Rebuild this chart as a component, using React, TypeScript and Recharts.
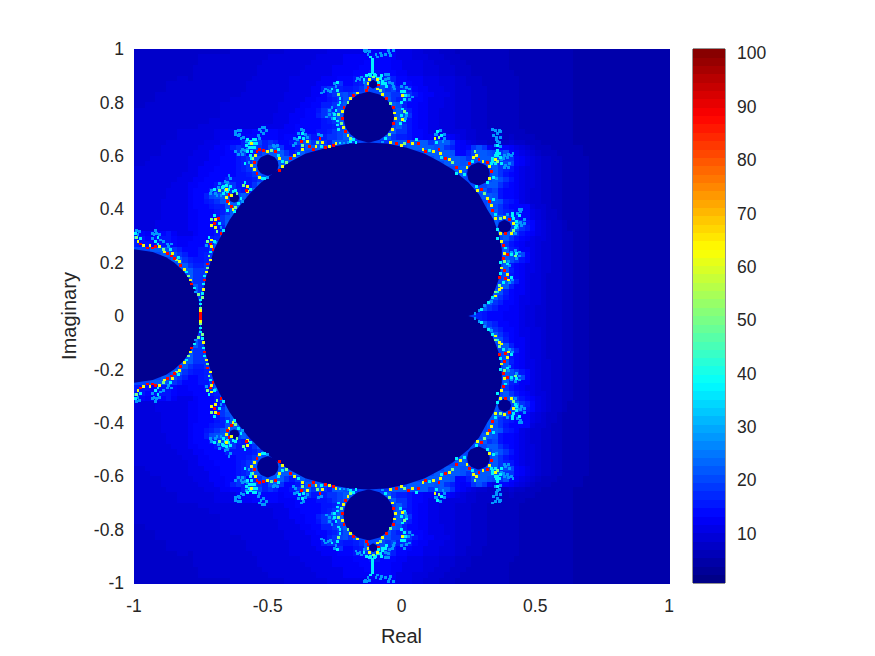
import { ScatterChart, Scatter, ComposedChart, Area, XAxis, YAxis, ReferenceArea } from 'recharts';

// outer iteration field for y = 0.99 down to 0.01, one char per cell (step 0.02), groups of ten columns
const topRows = [
  '5555555555 5555555566 6666666677 7777778888 8888999998 8877666555 4444444444 3333333333 3322222222 2222222222',
  '5555555555 5566666666 6666677777 7777888889 9999aaaa98 8877766655 5444444444 3333333333 3322222222 2222222222',
  '5555555555 5566666666 6666777777 7778888889 999aaaaa99 8888776665 5544444444 3333333333 3322222222 2222222222',
  '5555555555 5666666666 6667777777 7788888999 99aaaaaa99 8888777666 5554444444 3333333333 3322222222 2222222222',
  '5555555555 5666666666 6667777777 7888888999 9aaabbaaa9 9888777666 5554444444 4333333333 3322222222 2222222222',
  '5555555566 5666666666 6677777778 88888999aa abcdgdcdca a999888777 6655544444 4433333333 3322222222 2222222222',
  '5555556666 6666666666 6777777778 88889999da abcr##ydca aa99888777 6655544444 4433333333 3322222222 2222222222',
  '5555556666 6666666666 6777777778 88899cddcb bcdy##gdec dca9988877 6665554444 4433333333 3322222222 2222222222',
  '5555666666 6666666666 7777777788 88899acdeg dy####ogdd edba998887 6665554444 4433333333 3322222222 2222222222',
  '5555666666 6666666677 7777777788 8899aabcdg y######rdc dcaa988877 6665554444 4433333333 3322222222 2222222222',
  '5566666666 6666667777 7777777888 899aaccder ########rg caa9988877 6665554444 4433333333 3322222222 2222222222',
  '6666666666 6666667777 7777777888 99aabdecgo #########y dca9988777 6665554444 4433333333 3322222222 2222222222',
  '6666666666 6666667777 7777778889 99aacdegr# #########r gda9988777 6665554444 4433333333 3322222222 2222222222',
  '6666666666 6666777777 7777778889 9aaaabcdy# #########y cba9988777 6665554444 4433333333 3322222222 2222222222',
  '6666666666 6677777777 7777888899 aaaaabbcdg #########y dba9988777 6665554444 4433333333 3322222222 2222222222',
  '6666666677 7777788889 99aaaaa999 aaaabbcdey y#######rd dbaa988877 7766555544 4443333333 3322222222 2222222222',
  '6666666677 7777788889 9aaaaaa9aa acdbbcddey r######rdc cbaa99aaa9 8766555554 5444433333 3322222222 2222222222',
  '6666667777 77788899aa ceyecdcaab dgodydcoyg dd####ddyo oygoydgoyd a987665555 6554443333 3322222222 2222222222',
  '6666677777 7788899acd cdedcgydaa bdoyry#### ########## #oryrygodc a9adgd98aa 9876544433 3333222222 2222222222',
  '6666677777 7888999aad eacdgroydb dr######## ########## ####ryoryg aaceyrgedg a987654443 3333222222 2222222222',
  '6667777777 888899aaab cdgr##ryoy r######### ########## ######ryor rgdgrroyrd da98765544 3333322222 2222222222',
  '6677777777 888999aaab cdy####ry# ########## ########## ########ro ygr###ryde ea98765544 3333322222 2222222222',
  '7777777777 88999aaaab cdr####r## ########## ########## ########## ro#####rdc b987765544 3333322222 2222222222',
  '7777777778 8899aaaaab bcdo###### ########## ########## ########## #r#####ydb a987765544 3333322222 2222222222',
  '7777777788 899aaaacbb bbcdyr#### ########## ########## ########## #######rgd b987765544 3333322222 2222222222',
  '7777777888 99aaabdgdb bbdr###### ########## ########## ########## ######rydb a987765544 3333322222 2222222222',
  '7777778888 9aaacdecdc bcy####### ########## ########## ########## ####rydeba a987665544 3333322222 2222222222',
  '7777778888 9aacegyr## r######### ########## ########## ########## #####rygba a987665544 3333322222 2222222222',
  '7777788888 9aabcdgyor ########## ########## ########## ########## ######rygc ba87665544 3333322222 2222222222',
  '7777788888 9aaabccgyr ########## ########## ########## ########## ######ogdb aaaa766544 3333322222 2222222222',
  '7777788888 99aaabcdyr ########## ########## ########## ########## ######rydc baaa876554 3333322222 2222222222',
  '7777788888 99aaabdgr# ########## ########## ########## ########## #######ryg dcaa876554 3333322222 2222222222',
  '7777888888 99aaabdyr# ########## ########## ########## ########## #######r## #rdba87655 4333322222 2222222222',
  '7777888888 99aaabcr## ########## ########## ########## ########## #######r## #rdca87655 4333322222 2222222222',
  'aa99aab988 89aaabyr## ########## ########## ########## ########## ########ry ydba987655 4433322222 2222222222',
  'bbaabbba99 9aaabcr### ########## ########## ########## ########## #########r dba9877655 4433322222 2222222222',
  'cbbabbba99 aaabdgr### ########## ########## ########## ########## ########rd ba98876655 4433322222 2222222222',
  '###oyrgdca aabbdgr### ########## ########## ########## ########## #########r cb99876655 4433322222 2222222222',
  '#####oygdc aabcdr#### ########## ########## ########## ########## #########r gdea876655 4433322222 2222222222',
  '#######ryd cbbcdr#### ########## ########## ########## ########## #########y gdba876655 4433322222 2222222222',
  '########ry dccdr##### ########## ########## ########## ########## #########r ba98876655 4433322222 2222222222',
  '#########r ydddr##### ########## ########## ########## ########## #########y ca98876655 4433322222 2222222222',
  '########## rddgr##### ########## ########## ########## ########## #########g ba98776555 4433322222 2222222222',
  '########## rddr###### ########## ########## ########## ########## #########y gc98776555 4433322222 2222222222',
  '########## #rdr###### ########## ########## ########## ########## ########yy c998776555 4433322222 2222222222',
  '########## #rd####### ########## ########## ########## ########## #######ogc a998776555 4433322222 2222222222',
  '########## ##d####### ########## ########## ########## ########## #######ydb a988776555 4433322222 2222222222',
  '########## ##e####### ########## ########## ########## ########## ######rdca a988776555 4433322222 2222222222',
  '########## ##g####### ########## ########## ########## ########## #####rdcaa 9987766555 4433322222 2222222222',
  '########## ##r####### ########## ########## ########## ########## ###dcbaaa9 9987766555 4433322222 2222222222',
];

const codeValues: Record<string, number> = {
  '#': 20, '1': 4, '2': 5, '3': 6, '4': 7, '5': 8, '6': 9, '7': 10, '8': 11, '9': 12.5,
  a: 13.5, b: 15, c: 16, d: 18, e: 20, g: 21, y: 22, o: 22, r: 22,
};

// dark interior, [imag, left real, right real], upper half only
const mainBody = [
  [0.6495, -0.125, -0.125], [0.645, -0.2, -0.05], [0.63, -0.278, 0.02], [0.608, -0.36, 0.087], [0.58, -0.412, 0.14],
  [0.55, -0.46, 0.19], [0.5, -0.525, 0.25], [0.455, -0.57, 0.29], [0.4, -0.615, 0.32], [0.36, -0.643, 0.345],
  [0.3, -0.675, 0.366], [0.25, -0.7, 0.375], [0.2165, -0.71, 0.375], [0.15, -0.73, 0.368], [0.1, -0.74, 0.35],
  [0.075, -0.745, 0.34], [0.05, -0.75, 0.322], [0.03, -0.75, 0.305], [0.0135, -0.75, 0.287], [0.0044, -0.75, 0.2665],
  [0, -0.75, 0.25],
];
const topBulb = [
  [0.84, -0.125, -0.12], [0.83, -0.164, -0.082], [0.81, -0.19, -0.054], [0.79, -0.206, -0.04], [0.77, -0.214, -0.032],
  [0.745, -0.217, -0.028], [0.72, -0.213, -0.032], [0.7, -0.206, -0.04], [0.68, -0.19, -0.055], [0.66, -0.164, -0.082],
  [0.65, -0.125, -0.12],
];
const miniBulb = [[0.884, -0.108, -0.104], [0.875, -0.12, -0.092], [0.868, -0.122, -0.09], [0.86, -0.12, -0.092], [0.852, -0.108, -0.104]];
const leftBulb = [
  [0.25, -1, -1], [0.24, -1, -0.93], [0.22, -1, -0.88], [0.2, -1, -0.85], [0.17, -1, -0.817], [0.13, -1, -0.787],
  [0.09, -1, -0.767], [0.05, -1, -0.755], [0, -1, -0.75],
];
const bulbA = [[0.605, -0.502, -0.498], [0.595, -0.526, -0.474], [0.58, -0.537, -0.463], [0.565, -0.54, -0.46], [0.55, -0.537, -0.463], [0.535, -0.526, -0.474], [0.525, -0.502, -0.498]];
const bulbB = [[0.575, 0.285, 0.29], [0.565, 0.26, 0.315], [0.55, 0.248, 0.327], [0.532, 0.245, 0.33], [0.51, 0.25, 0.325], [0.5, 0.258, 0.315], [0.489, 0.285, 0.29]];
const bulbC = [[0.36, 0.383, 0.387], [0.35, 0.365, 0.405], [0.335, 0.36, 0.41], [0.32, 0.365, 0.405], [0.31, 0.383, 0.387]];
const bulbD = [[0.461, -0.627, -0.623], [0.455, -0.64, -0.61], [0.443, -0.643, -0.607], [0.43, -0.64, -0.61], [0.425, -0.627, -0.623]];

const skySpecks = [
  [-0.125, 0.98], [-0.135, 0.99], [-0.14, 0.995], [-0.09, 0.97], [-0.075, 0.975], [-0.06, 0.98], [-0.045, 0.985], [-0.03, 0.995],
  [-0.15, 0.895], [-0.165, 0.89], [-0.14, 0.875], [-0.06, 0.905], [-0.05, 0.89], [-0.045, 0.875], [-0.03, 0.86],
  [-0.245, 0.86], [-0.275, 0.845], [-0.29, 0.84], [-0.26, 0.78], [-0.27, 0.755], [0, 0.86], [0.02, 0.855], [0.03, 0.81],
  [-0.39, 0.66], [-0.36, 0.68], [-0.395, 0.645], [-0.215, 0.648], [-0.2, 0.65], [-0.07, 0.652], [0.155, 0.655],
  [0.39, 0.565], [0.4, 0.555], [0.385, 0.6], [0.4, 0.605], [0.417, 0.61], [0.36, 0.655], [0.355, 0.67], [0.36, 0.685], [0.35, 0.695], [0.37, 0.67],
  [0.355, 0.515], [0.395, 0.38], [0.445, 0.35], [0.46, 0.345], [0.445, 0.39], [0.44, 0.24], [0.4, 0.205], [0.335, 0.055], [0.31, 0.04], [0.29, 0.02], [0.275, 0.01],
  [-0.59, 0.67], [-0.605, 0.68], [-0.62, 0.69], [-0.61, 0.695], [-0.535, 0.675], [-0.525, 0.69], [-0.52, 0.705], [-0.505, 0.695],
  [-0.585, 0.62], [-0.6, 0.615], [-0.61, 0.605], [-0.57, 0.575], [-0.475, 0.635], [-0.5, 0.52], [-0.695, 0.46], [-0.65, 0.5], [-0.64, 0.515], [-0.595, 0.43],
  [-0.675, 0.33], [-0.695, 0.275], [-0.73, 0.265], [-0.985, 0.305], [-0.93, 0.29], [-0.925, 0.305], [-0.915, 0.31], [-0.9, 0.285], [-0.87, 0.26], [-0.77, 0.09],
  [-0.6, 0.665], [-0.61, 0.675], [-0.58, 0.655], [-0.53, 0.665], [-0.515, 0.685], [-0.595, 0.625], [-0.575, 0.625], [-0.62, 0.68], [-0.6, 0.695], [-0.51, 0.705], [-0.53, 0.7], [-0.62, 0.615], [-0.595, 0.605], [-0.48, 0.64], [-0.465, 0.64],
  [-0.685, 0.48], [-0.71, 0.47], [-0.69, 0.45], [-0.675, 0.45], [-0.66, 0.505], [-0.645, 0.525], [-0.715, 0.46], [-0.68, 0.495],
  [0.355, 0.66], [0.365, 0.65], [0.37, 0.635], [0.35, 0.64], [0.345, 0.675], [0.365, 0.695], [0.34, 0.7], [0.37, 0.69], [0.38, 0.59], [0.395, 0.595], [0.41, 0.6], [0.405, 0.57], [0.385, 0.555], [0.375, 0.585],
  [0.45, 0.34], [0.435, 0.345], [0.46, 0.36], [0.45, 0.4], [0.44, 0.4], [0.435, 0.385], [0.435, 0.33], [0.425, 0.31],
  [0.43, 0.215], [0.425, 0.245], [0.44, 0.225], [0.41, 0.24], [0.405, 0.19], [0.415, 0.135], [0.405, 0.125],
  [-0.13, 0.995], [-0.12, 0.99], [-0.095, 0.98], [-0.08, 0.985], [-0.05, 0.995], [-0.04, 0.975], [-0.17, 0.88], [-0.155, 0.885], [-0.06, 0.885], [-0.05, 0.905], [-0.035, 0.87], [-0.025, 0.85],
  [-0.25, 0.87], [-0.285, 0.85], [-0.265, 0.84], [-0.3, 0.835], [-0.27, 0.77], [-0.255, 0.76], [-0.28, 0.745], [-0.26, 0.74], [0.01, 0.87], [0.03, 0.85], [0.04, 0.82], [0.025, 0.825], [0.02, 0.75], [0.015, 0.74],
  [-0.995, 0.295], [-0.98, 0.315], [-0.99, 0.32], [-0.93, 0.31], [-0.92, 0.32], [-0.905, 0.305], [-0.89, 0.28], [-0.875, 0.27], [-0.86, 0.27],
  [-0.385, 0.685], [-0.365, 0.695], [-0.4, 0.665], [-0.405, 0.64], [-0.375, 0.7], [-0.35, 0.67], [-0.31, 0.68], [-0.3, 0.675], [0.13, 0.68], [0.145, 0.695], [0.16, 0.665], [0.125, 0.68], [0.16, 0.68],
];
const cyanSpecks = [
  [-0.107, 0.96], [-0.107, 0.95], [-0.107, 0.94], [-0.107, 0.93], [-0.107, 0.92], [-0.107, 0.91], [-0.115, 0.97],
  [-0.13, 0.9], [-0.12, 0.905], [-0.09, 0.89], [-0.075, 0.9], [-0.07, 0.88], [-0.06, 0.87], [-0.085, 0.875], [-0.18, 0.66], [-0.06, 0.665],
  [-0.24, 0.875], [-0.26, 0.85], [-0.24, 0.845], [-0.23, 0.815], [-0.245, 0.77], [-0.25, 0.74], [-0.24, 0.73],
  [0.01, 0.84], [0.01, 0.81], [0, 0.8], [0.02, 0.76], [0, 0.75], [-0.005, 0.72],
  [-0.385, 0.61], [-0.365, 0.665], [-0.38, 0.67], [-0.37, 0.685], [-0.3, 0.635], [-0.23, 0.648], [-0.19, 0.655], [-0.17, 0.65], [0.055, 0.66], [0.105, 0.62],
  [0.13, 0.65], [0.135, 0.69], [0.15, 0.675], [0.15, 0.595], [0.205, 0.535], [0.235, 0.53], [0.265, 0.58], [0.32, 0.5], [0.345, 0.52],
  [0.34, 0.59], [0.375, 0.57], [0.36, 0.6], [0.36, 0.62], [0.36, 0.64], [0.28, 0.485], [0.345, 0.435], [0.35, 0.38], [0.43, 0.355], [0.44, 0.375],
  [0.36, 0.325], [0.36, 0.29], [0.39, 0.255], [0.41, 0.23], [0.43, 0.235], [0.395, 0.195], [0.41, 0.145], [0.38, 0.125], [0.36, 0.09], [0.34, 0.07], [0.325, 0.05], [0.3, 0.025],
  [-0.575, 0.66], [-0.545, 0.66], [-0.57, 0.63], [-0.55, 0.63], [-0.56, 0.615], [-0.565, 0.6], [-0.585, 0.57], [-0.46, 0.625], [-0.46, 0.6], [-0.445, 0.58], [-0.52, 0.515], [-0.51, 0.515],
  [-0.585, 0.5], [-0.565, 0.475], [-0.665, 0.46], [-0.7, 0.475], [-0.665, 0.485], [-0.655, 0.49], [-0.63, 0.465], [-0.62, 0.47], [-0.61, 0.42], [-0.6, 0.44], [-0.625, 0.39], [-0.65, 0.395],
  [-0.7, 0.375], [-0.68, 0.345], [-0.665, 0.32], [-0.72, 0.295], [-0.7, 0.28], [-0.715, 0.24], [-0.735, 0.15], [-0.74, 0.12], [-0.745, 0.085],
  [-0.995, 0.31], [-0.975, 0.29], [-0.91, 0.27], [-0.92, 0.28], [-0.91, 0.295], [-0.865, 0.25], [-0.835, 0.22], [-0.805, 0.165], [-0.775, 0.105], [-0.752, 0.06], [-0.752, 0.045],
  [-0.56, 0.63], [-0.57, 0.645], [-0.55, 0.645], [-0.565, 0.655], [-0.555, 0.66], [-0.58, 0.64], [-0.54, 0.645], [-0.575, 0.615], [-0.56, 0.59],
  [0.34, 0.58], [0.35, 0.6], [0.355, 0.61], [0.365, 0.61], [0.35, 0.57], [0.335, 0.57], [0.37, 0.595], [0.415, 0.375], [0.42, 0.365], [0.43, 0.34], [0.425, 0.33], [0.415, 0.385],
  [-0.68, 0.47], [-0.66, 0.47], [-0.67, 0.48], [-0.645, 0.475], [-0.64, 0.485], [-0.65, 0.465],
  [-0.115, 0.9], [-0.1, 0.905], [-0.14, 0.885], [-0.08, 0.89], [-0.095, 0.9], [-0.07, 0.87], [-0.055, 0.86],
  [-0.23, 0.8], [-0.235, 0.79], [-0.25, 0.755], [-0.24, 0.715], [-0.235, 0.7], [0, 0.84], [0.015, 0.825], [0.005, 0.775], [0.01, 0.73], [0.37, 0.2], [0.37, 0.16],
];
const greenSpecks = [
  [-0.105, 0.895], [-0.08, 0.845], [-0.2, 0.8], [-0.225, 0.72], [-0.19, 0.665], [-0.04, 0.795], [-0.045, 0.68], [-0.235, 0.83], [-0.235, 0.755], [0.01, 0.765],
  [-0.43, 0.575], [-0.37, 0.64], [-0.315, 0.65], [0.01, 0.645], [0.14, 0.67], [0.19, 0.575], [0.275, 0.615], [0.36, 0.58], [0.31, 0.46], [0.37, 0.365], [0.42, 0.32], [0.425, 0.225], [0.385, 0.205], [0.365, 0.115],
  [-0.555, 0.59], [-0.485, 0.62], [-0.59, 0.49], [-0.68, 0.47], [-0.62, 0.405], [-0.615, 0.46], [-0.71, 0.36], [-0.69, 0.315], [-0.725, 0.28], [-0.72, 0.225], [-0.725, 0.18], [-0.745, 0.07],
  [-0.99, 0.295], [-0.89, 0.25], [-0.84, 0.21], [-0.795, 0.15], [-0.76, 0.08], [-0.752, 0.03], [0.35, 0.09],
];
const yellowSpecks = [
  [-0.125, 0.87], [-0.12, 0.885], [-0.09, 0.885], [-0.09, 0.85], [-0.165, 0.835], [-0.19, 0.815], [-0.222, 0.765], [-0.218, 0.705], [-0.2, 0.675],
  [-0.07, 0.83], [-0.025, 0.76], [-0.022, 0.74], [-0.035, 0.7], [0.005, 0.825], [0.005, 0.735],
  [-0.445, 0.56], [-0.4, 0.6], [-0.37, 0.625], [-0.35, 0.655], [-0.32, 0.635], [-0.295, 0.65], [-0.27, 0.635], [-0.245, 0.645], [-0.04, 0.65], [0, 0.64], [0.04, 0.645], [0.08, 0.625], [0.12, 0.615], [0.125, 0.665], [0.145, 0.61], [0.18, 0.585], [0.22, 0.54],
  [0.245, 0.555], [0.27, 0.595], [0.28, 0.6], [0.305, 0.58], [0.33, 0.56], [0.33, 0.515], [0.35, 0.585], [0.285, 0.47], [0.32, 0.44], [0.335, 0.415], [0.35, 0.365], [0.385, 0.37], [0.42, 0.345], [0.41, 0.31], [0.37, 0.31], [0.375, 0.28], [0.385, 0.235], [0.395, 0.155], [0.4, 0.135], [0.365, 0.1], [0.375, 0.105], [0.35, 0.075], [0.375, 0.18],
  [-0.56, 0.645], [-0.56, 0.565], [-0.545, 0.6], [-0.5, 0.615], [-0.455, 0.59], [-0.55, 0.55], [-0.53, 0.52], [-0.575, 0.485], [-0.575, 0.465], [-0.655, 0.475], [-0.635, 0.45], [-0.655, 0.445], [-0.645, 0.42], [-0.63, 0.4],
  [-0.695, 0.36], [-0.71, 0.34], [-0.695, 0.33], [-0.71, 0.285], [-0.71, 0.26], [-0.715, 0.21], [-0.73, 0.165], [-0.74, 0.1],
  [-0.985, 0.28], [-0.965, 0.265], [-0.94, 0.265], [-0.905, 0.26], [-0.885, 0.24], [-0.855, 0.235], [-0.83, 0.205], [-0.81, 0.175], [-0.79, 0.135], [-0.752, 0.02],
];
const redSpecks = [
  [-0.125, 0.855], [-0.085, 0.865], [-0.13, 0.845], [-0.18, 0.825], [-0.215, 0.78], [-0.22, 0.74], [-0.21, 0.69], [-0.055, 0.815], [-0.03, 0.78], [-0.03, 0.72],
  [-0.455, 0.545], [-0.415, 0.59], [-0.375, 0.655], [-0.345, 0.635], [-0.33, 0.625], [-0.305, 0.665], [-0.285, 0.63], [-0.255, 0.64], [-0.02, 0.645], [0.025, 0.655], [0.065, 0.645], [0.09, 0.615], [0.14, 0.625], [0.165, 0.59], [0.205, 0.555],
  [0.255, 0.57], [0.29, 0.585], [0.32, 0.575], [0.335, 0.54], [0.3, 0.475], [0.33, 0.43], [0.34, 0.395], [0.405, 0.36], [0.39, 0.31], [0.38, 0.265], [0.395, 0.23], [0.38, 0.215], [0.385, 0.17], [0.39, 0.14], [0.365, 0.145],
  [-0.55, 0.575], [-0.54, 0.615], [-0.53, 0.625], [-0.515, 0.62], [-0.47, 0.615], [-0.54, 0.535], [-0.58, 0.47], [-0.645, 0.455], [-0.65, 0.43], [-0.635, 0.41], [-0.685, 0.365], [-0.7, 0.345], [-0.675, 0.31], [-0.715, 0.27], [-0.705, 0.25], [-0.725, 0.195], [-0.735, 0.135],
  [-0.975, 0.27], [-0.95, 0.255], [-0.93, 0.255], [-0.92, 0.26], [-0.875, 0.235], [-0.86, 0.225], [-0.85, 0.215], [-0.825, 0.19], [-0.785, 0.12], [-0.752, 0.01], [-0.752, 0.003],
];

const xTicks = [-1, -0.5, 0, 0.5, 1];
const yTicks = [-1, -0.8, -0.6, -0.4, -0.2, 0, 0.2, 0.4, 0.6, 0.8, 1];
const barTicks = [10, 20, 30, 40, 50, 60, 70, 80, 90, 100];
const barLevels = [
  1.5, 3.1, 4.6, 6.2, 7.7, 9.3, 10.9, 12.4, 14.0, 15.6, 17.1, 18.7, 20.3, 21.8, 23.4, 24.9,
  26.5, 28.1, 29.6, 31.2, 32.8, 34.3, 35.9, 37.5, 39.0, 40.6, 42.2, 43.7, 45.3, 46.8, 48.4, 50.0,
  51.5, 53.1, 54.7, 56.2, 57.8, 59.4, 60.9, 62.5, 64.0, 65.6, 67.2, 68.7, 70.3, 71.9, 73.4, 75.0,
  76.6, 78.1, 79.7, 81.3, 82.8, 84.4, 85.9, 87.5, 89.1, 90.6, 92.2, 93.8, 95.3, 96.9, 98.5, 100.0,
];

const cells = [...topRows, ...[...topRows].reverse()].flatMap((row, r) =>
  row.replace(/ /g, '').split('').map((ch, c) => ({
    re: -0.99 + c * 0.02,
    im: 0.99 - r * 0.02,
    v: codeValues[ch],
  })),
);
const barData = barLevels.map((v) => ({ pos: 0.5, v }));

const toSpan = (rows: number[][], sign: number) => rows.map(([im, l, r]) => ({ im: im * sign, span: [l, r] }));
const bodyData = [...toSpan(mainBody, 1), ...toSpan([...mainBody].reverse().slice(1), -1)];
const bulbs = [topBulb, miniBulb, leftBulb, bulbA, bulbB, bulbC, bulbD];
const bulbData = bulbs.flatMap((b) => [toSpan(b, 1), toSpan(b, -1)]);

const mirrored = (pts: number[][]) => pts.flatMap(([re, im]) => [{ re, im }, { re, im: -im }]);
const speckSets = [
  { pts: mirrored(skySpecks), v: 28 },
  { pts: mirrored(cyanSpecks), v: 37 },
  { pts: mirrored(greenSpecks), v: 50 },
  { pts: mirrored(yellowSpecks), v: 62 },
  { pts: mirrored(redSpecks), v: 88 },
];

const clamp = (n: number) => Math.max(0, Math.min(1, n));
const jet = (v: number) => {
  const t = (v - 0.7) / 100.1;
  const r = clamp(1.5 - Math.abs(4 * t - 3));
  const g = clamp(1.5 - Math.abs(4 * t - 2));
  const b = clamp(1.5 - Math.abs(4 * t - 1));
  return `rgb(${Math.round(r * 255)},${Math.round(g * 255)},${Math.round(b * 255)})`;
};

const CELL = 535 / 100;
const HeatCell = ({ cx, cy, payload }: any) => (
  <rect x={cx - CELL / 2} y={cy - CELL / 2} width={CELL + 1} height={CELL + 1} fill={jet(payload.v)} shapeRendering="crispEdges" />
);
const BarBand = ({ cx, cy, payload }: any) => (
  <rect x={cx - 16} y={cy - 4.3} width={32} height={8.8} fill={jet(payload.v)} shapeRendering="crispEdges" />
);
const speckShape = (v: number) => ({ cx, cy }: any) => (
  <rect x={cx - 1.4} y={cy - 1.4} width={2.8} height={2.8} fill={jet(v)} shapeRendering="crispEdges" />
);

const text = { fill: '#262626', fontSize: 17.5, fontFamily: 'Liberation Sans' };
const labelStyle = { fill: '#262626', fontSize: 20, fontFamily: 'Liberation Sans' };
const layer = { position: 'absolute', left: 0, top: 0 } as const;
const plotMargin = { left: 134, right: 206, top: 49, bottom: 73 };

export default function App() {
  return (
    <div style={{ position: 'absolute', left: 0, top: 0, width: 875, height: 656, background: '#fff' }}>
      <div style={layer}>
        <ScatterChart width={875} height={656} margin={{ left: 74, right: 206, top: 49, bottom: 33 }}>
          <XAxis
            type="number"
            dataKey="re"
            domain={[-1, 1]}
            ticks={xTicks}
            axisLine={false}
            tickLine={false}
            tick={text}
            tickMargin={11}
            height={40}
            label={{ value: 'Real', position: 'bottom', offset: 6, style: labelStyle }}
          />
          <YAxis
            type="number"
            dataKey="im"
            domain={[-1, 1]}
            ticks={yTicks}
            axisLine={false}
            tickLine={false}
            tick={text}
            tickMargin={4}
            width={60}
            label={{ value: 'Imaginary', angle: -90, position: 'left', offset: 5, style: { ...labelStyle, textAnchor: 'middle' } }}
          />
          <Scatter data={cells} isAnimationActive={false} shape={HeatCell} />
        </ScatterChart>
      </div>
      <div style={layer}>
        <ComposedChart width={875} height={656} layout="vertical" margin={plotMargin}>
          <XAxis type="number" domain={[-1, 1]} hide />
          <YAxis type="number" dataKey="im" domain={[-1, 1]} hide />
          <Area data={bodyData} dataKey="span" type="linear" stroke="none" fill="#00008f" fillOpacity={1} dot={false} isAnimationActive={false} />
          {bulbData.map((d, i) => (
            <Area key={i} data={d} dataKey="span" type="linear" stroke="none" fill="#00008f" fillOpacity={1} dot={false} isAnimationActive={false} />
          ))}
        </ComposedChart>
      </div>
      <div style={layer}>
        <ScatterChart width={875} height={656} margin={plotMargin}>
          <XAxis type="number" dataKey="re" domain={[-1, 1]} hide />
          <YAxis type="number" dataKey="im" domain={[-1, 1]} hide />
          {speckSets.map((s) => (
            <Scatter key={s.v} data={s.pts} isAnimationActive={false} shape={speckShape(s.v)} />
          ))}
        </ScatterChart>
      </div>
      <div style={layer}>
        <ScatterChart width={875} height={656} margin={{ left: 693, right: 90, top: 49, bottom: 73 }}>
          <XAxis type="number" dataKey="pos" domain={[0, 1]} hide />
          <YAxis
            type="number"
            dataKey="v"
            orientation="right"
            domain={[0.7, 100.8]}
            ticks={barTicks}
            axisLine={false}
            tick={text}
            tickLine={{ stroke: '#262626' }}
            tickSize={-5}
            tickMargin={17}
            width={60}
          />
          <Scatter data={barData} isAnimationActive={false} shape={BarBand} />
          <ReferenceArea x1={0} x2={1} y1={0.7} y2={100.8} fill="none" stroke="#262626" strokeWidth={1} />
        </ScatterChart>
      </div>
    </div>
  );
}
